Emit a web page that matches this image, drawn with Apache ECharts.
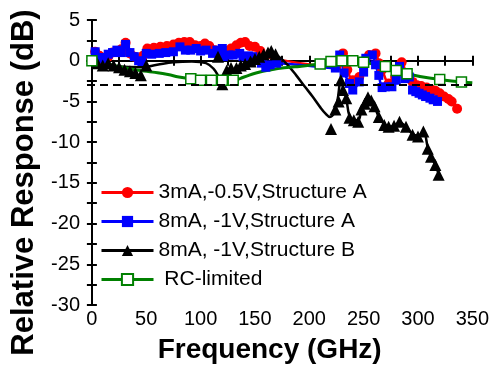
<!DOCTYPE html>
<html>
<head>
<meta charset="utf-8">
<script src="https://cdn.jsdelivr.net/npm/echarts@6/dist/echarts.min.js"></script>
<style>
    html, body { margin: 0; padding: 0; background: #fff; }
    #main { width: 492px; height: 378px; }
</style>
</head>
<body>
<div id="main"></div>
<script>
// 3mA,-0.5V,Structure A (red circles)
var freqA3 = [3, 7, 11, 15, 19, 23, 27, 31, 35, 39, 43, 47, 51, 57, 63, 69, 75, 80, 85, 90, 95, 100, 104, 108, 113, 119, 124, 128, 133, 137, 141, 145, 150, 155, 158, 225, 231, 235, 240, 246, 250, 255, 261, 264, 267, 273, 279, 285, 290, 295, 299, 303, 308, 312, 316, 320, 324, 328, 331, 336];
var respA3 = [1.1, 0.6, -0.5, 0.5, 1.0, 1.2, 1.4, 2.2, 0.9, 0.5, 0.2, 0.6, 1.5, 1.6, 1.7, 1.8, 2.0, 2.2, 2.3, 2.3, 1.9, 1.8, 2.1, 1.8, 1.3, 0.7, 1.2, 1.5, 1.9, 2.2, 2.3, 1.8, 1.7, 1.2, 0.5, -0.7, 0.9, -1.1, -2.4, -2.0, -0.6, 0.7, 0.9, -0.3, -1.1, -2.8, -2.0, -0.2, -1.8, -2.6, -3.0, -3.1, -3.3, -3.5, -3.7, -4.0, -4.4, -4.7, -5.0, -5.9];

// 8mA, -1V,Structure A (blue squares)
var freqA8 = [3, 7, 11, 15, 19, 23, 27, 31, 35, 39, 43, 46, 50, 55, 62, 68, 75, 81, 86, 91, 96, 100, 105, 111, 115, 120, 121, 126, 130, 136, 139, 144, 148, 152, 156, 160, 164, 170, 224, 228, 232, 237, 240, 246, 250, 252, 258, 261, 264, 267, 270, 276, 280, 283, 288, 292, 295, 298, 301, 304, 307, 311, 314, 318];
var respA8 = [1.1, 0.4, 0.2, 0.8, 1.0, 1.3, 1.0, 2.0, 1.0, 0.5, 0.0, -0.1, 0.9, 0.8, 0.9, 1.0, 1.1, 1.7, 1.3, 1.3, 1.5, 1.2, 1.3, 0.9, 1.3, 1.5, 0.5, 0.7, 0.7, 0.9, 0.5, 0.6, 0.5, 0.1, -0.3, -0.8, -0.5, -0.3, -0.9, 0.7, -1.5, -2.8, -3.6, -2.6, -1.4, 0.3, 0.7, -0.5, -1.8, -3.3, -3.2, -3.2, -2.4, -0.7, -2.2, -2.0, -3.6, -3.8, -4.0, -4.2, -4.4, -4.6, -4.8, -5.0];

// 8mA, -1V,Structure B (black triangles + smooth line)
var freqB = [5, 10, 15, 20, 25, 30, 35, 40, 45, 50, 116, 120, 124, 128, 133, 137, 141, 146, 150, 154, 158, 162, 165, 169, 220, 224, 227, 229, 231, 234, 237, 241, 245, 248, 251, 254, 257, 260, 264, 269, 273, 278, 283, 289, 295, 300, 305, 309, 312, 316, 319];
var respB = [-0.3, -0.6, -0.3, -0.6, -0.8, -1.1, -1.3, -1.5, -1.8, -0.6, 0.5, -2.9, -1.2, -0.9, -0.9, -0.6, -0.4, -0.1, 0.2, 0.5, 0.8, 1.0, 1.2, 0.8, -8.4, -6.0, -5.0, -2.4, -3.6, -4.6, -7.0, -7.3, -7.5, -6.0, -5.3, -4.5, -4.9, -5.6, -6.9, -7.9, -8.1, -8.0, -7.5, -8.1, -9.1, -9.3, -8.7, -10.8, -11.8, -12.8, -14.0];
var freqBFit = [0, 25, 45, 60, 75, 92, 105, 112, 117, 121, 125, 133, 141, 150, 158, 165, 172, 180, 188, 196, 203, 210, 215, 219, 223, 226, 229, 231, 234, 237, 241, 245, 248, 251, 254, 257, 260, 264, 269, 273, 278, 283, 289, 295, 300, 305, 309, 312, 316, 319];
var respBFit = [-0.3, -0.7, -0.8, -0.5, -0.2, -0.1, -0.3, -1.0, -2.0, -2.6, -1.6, -0.9, -0.4, 0.2, 0.8, 1.0, 0.5, -0.5, -1.8, -3.2, -4.4, -5.7, -6.5, -6.9, -6.4, -4.8, -2.6, -3.2, -4.6, -6.8, -7.3, -7.3, -6.0, -5.0, -4.4, -4.8, -5.6, -6.9, -7.8, -8.1, -8.0, -7.6, -8.1, -9.0, -9.2, -8.8, -10.6, -11.8, -12.8, -13.9];

// RC-limited (green open squares + curve)
var freqRC = [0, 91, 100, 110, 120, 130, 210, 220, 230, 240, 250, 270, 280, 290, 320, 340];
var respRC = [0, -2.2, -2.4, -2.4, -2.4, -2.4, -0.4, -0.1, 0, 0, -0.2, -0.7, -1.2, -1.6, -2.3, -2.6];
var freqRCFit = [0, 15, 31, 45, 56, 70, 80, 91, 100, 130, 140, 151, 165, 182, 191, 210, 230, 240, 250, 270, 290, 320, 340, 350];
var respRCFit = [0, -0.4, -0.9, -1.2, -1.4, -1.7, -2.0, -2.2, -2.4, -2.4, -2.0, -1.5, -1.1, -0.8, -0.7, -0.4, 0, 0, -0.2, -0.7, -1.6, -2.3, -2.6, -2.7];

// 刻度
var xLabels = [0, 50, 100, 150, 200, 250, 300, 350];
var xTicks = [0, 25, 50, 75, 100, 125, 150, 175, 200, 225, 250, 275, 300, 325, 350];
var cutoff = -3;

var names = ['3mA,-0.5V,Structure A', '8mA, -1V,Structure A', '8mA, -1V,Structure B', ' RC-limited'];

function zip(xs, ys) {
    var out = [];
    for (var i = 0; i < xs.length; i++) {
        out.push([xs[i], ys[i]]);
    }
    return out;
}

var chart = echarts.init(document.getElementById('main'));

var font = 'Liberation Sans, Arial, sans-serif';
var axisLine = { show: true, lineStyle: { color: '#000', width: 2 } };
var tick = { inside: true, length: 5, lineStyle: { color: '#000', width: 2 } };

var option = {
    animation: false,
    backgroundColor: '#fff',
    grid: { left: 87, right: 19, top: 20, bottom: 73 },
    legend: {
        data: [
            { name: names[0], lineStyle: { width: 3 } },
            { name: names[1], lineStyle: { width: 3 } },
            { name: names[2], lineStyle: { opacity: 1, width: 3, color: '#000' } },
            { name: names[3], lineStyle: { opacity: 1, width: 3, color: '#008000' } }
        ],
        orient: 'vertical',
        left: 100,
        top: 182,
        padding: 0,
        itemWidth: 52,
        itemHeight: 14,
        itemGap: 8,
        textStyle: { fontFamily: font, fontSize: 21, color: '#000', lineHeight: 20 }
    },
    xAxis: [{
        type: 'value',
        min: -4.5,
        max: 350,
        name: 'Frequency (GHz)',
        nameLocation: 'middle',
        nameGap: 31,
        nameTextStyle: { fontFamily: font, fontSize: 28, fontWeight: 'bold', color: '#000', padding: [0, 20, 0, 0] },
        axisLine: axisLine,
        axisTick: { inside: true, length: 5, lineStyle: { color: '#000', width: 2 }, customValues: xTicks },
        axisLabel: { customValues: xLabels, fontFamily: font, fontSize: 20, color: '#000', margin: 4 },
        splitLine: { show: false }
    }, {
        type: 'value',
        position: 'top',
        min: -4.5,
        max: 350,
        axisLine: axisLine,
        axisTick: { inside: true, length: 5, lineStyle: { color: '#000', width: 2 }, customValues: xTicks },
        axisLabel: { show: false },
        splitLine: { show: false }
    }],
    yAxis: [{
        type: 'value',
        min: -30,
        max: 5,
        interval: 5,
        name: 'Relative Response (dB)',
        nameLocation: 'middle',
        nameGap: 44,
        nameTextStyle: { fontFamily: font, fontSize: 31, fontWeight: 'bold', color: '#000', padding: [0, 40, 0, 0] },
        axisLine: axisLine,
        axisTick: tick,
        minorTick: { show: true, splitNumber: 2, length: 5, lineStyle: { color: '#000', width: 2 } },
        axisLabel: { fontFamily: font, fontSize: 20, color: '#000', margin: 7 },
        splitLine: { show: false }
    }, {
        type: 'value',
        position: 'right',
        min: -30,
        max: 5,
        interval: 5,
        axisLine: axisLine,
        axisTick: tick,
        minorTick: { show: true, splitNumber: 2, length: 5, lineStyle: { color: '#000', width: 2 } },
        axisLabel: { show: false },
        splitLine: { show: false }
    }],
    series: [{
        name: names[0],
        type: 'line',
        data: zip(freqA3, respA3),
        smooth: 0.3,
        symbol: 'circle',
        symbolSize: 10,
        color: '#ff0000',
        lineStyle: { width: 2.5, color: '#ff0000' },
        itemStyle: { color: '#ff0000' }
    }, {
        name: names[1],
        type: 'line',
        data: zip(freqA8, respA8),
        smooth: 0.3,
        symbol: 'rect',
        symbolSize: 9,
        color: '#0000ff',
        lineStyle: { width: 2.5, color: '#0000ff' },
        itemStyle: { color: '#0000ff' }
    }, {
        // Structure B 平滑曲线
        type: 'line',
        data: zip(freqBFit, respBFit),
        smooth: 0.4,
        symbol: 'none',
        lineStyle: { width: 2.5, color: '#000' }
    }, {
        name: names[2],
        type: 'line',
        data: zip(freqB, respB),
        symbol: 'triangle',
        symbolSize: 12,
        color: '#000',
        lineStyle: { opacity: 0 },
        itemStyle: { color: '#000' }
    }, {
        // RC 曲线 + -3dB 虚线
        type: 'line',
        data: zip(freqRCFit, respRCFit),
        smooth: 0.5,
        symbol: 'none',
        lineStyle: { width: 3, color: '#008000' },
        markLine: {
            silent: true,
            symbol: 'none',
            label: { show: false },
            lineStyle: { color: '#000', width: 2, type: [8, 5] },
            data: [{ yAxis: cutoff }]
        }
    }, {
        name: names[3],
        type: 'line',
        data: zip(freqRC, respRC),
        symbol: 'rect',
        symbolSize: 10,
        color: '#008000',
        lineStyle: { opacity: 0 },
        itemStyle: { color: '#fff', borderColor: '#008000', borderWidth: 1.5 }
    }]
};

chart.setOption(option);
</script>
</body>
</html>
